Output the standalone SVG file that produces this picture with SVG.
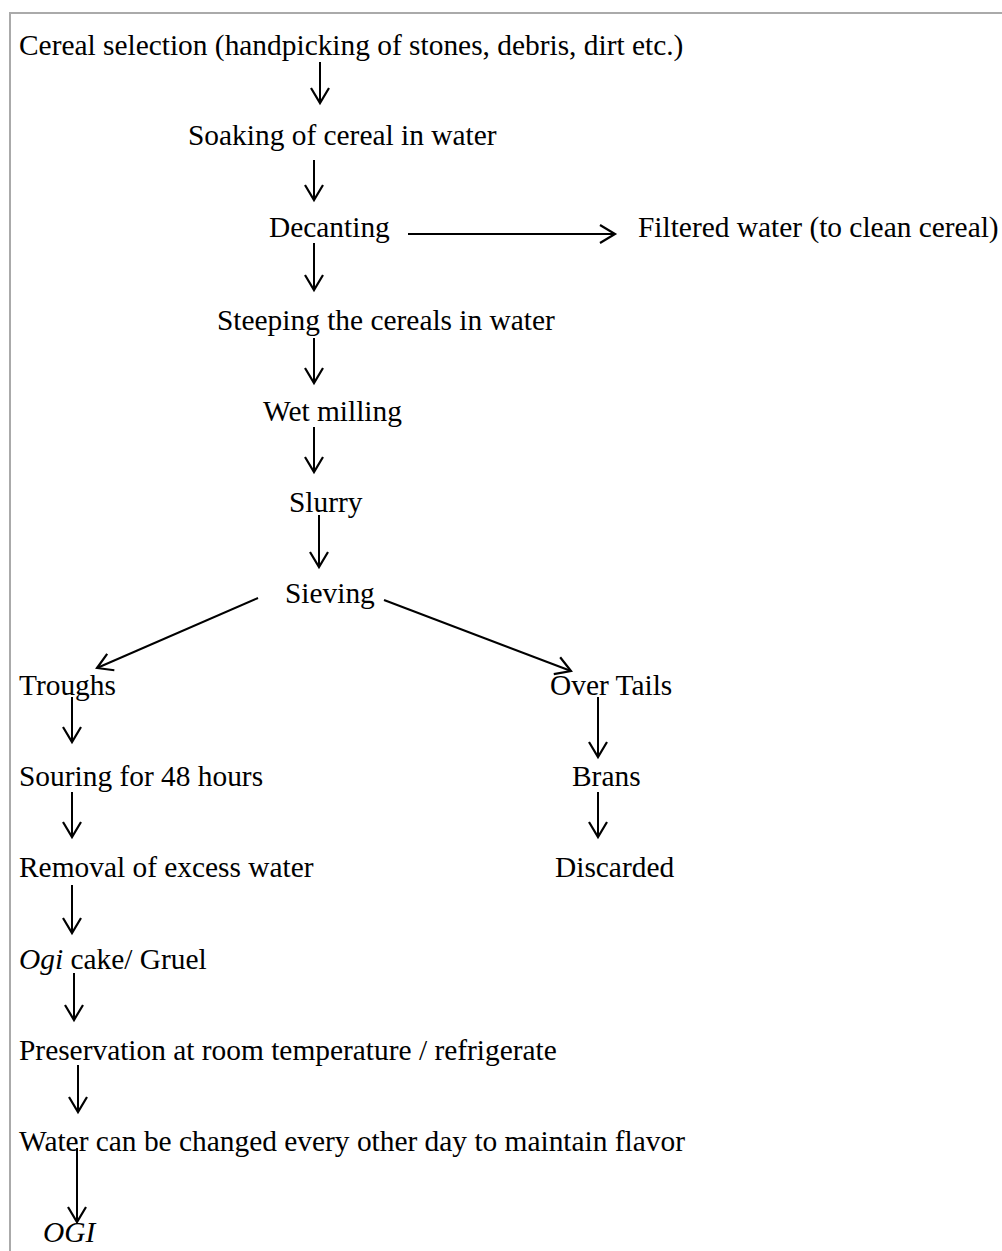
<svg xmlns="http://www.w3.org/2000/svg" width="1002" height="1251" viewBox="0 0 1002 1251">
<style>
text{font-family:"Liberation Serif","Times New Roman",serif;font-size:29.4px;fill:#000}
.it{font-style:italic}
.c line{stroke:#000;stroke-width:2;fill:none;marker-end:url(#ah)}
.frame{stroke:#aaa;stroke-width:2;fill:none}
</style>
<defs>
<marker id="ah" markerUnits="userSpaceOnUse" viewBox="-18 -11 20 22" refX="0" refY="0" markerWidth="20" markerHeight="22" orient="auto" overflow="visible">
<path d="M-15,-9 L0,0 L-15,9" fill="none" stroke="#000" stroke-width="2.2"/>
</marker>
</defs>
<rect width="1002" height="1251" fill="#fff"/>
<path class="frame" d="M10,1251 V13 H1002"/>
<g id="n1"><text x="19" y="55">Cereal selection (handpicking of stones, debris, dirt etc.)</text></g>
<g id="n2"><text x="188" y="145">Soaking of cereal in water</text></g>
<g id="n3"><text x="269" y="237">Decanting</text></g>
<g id="n4"><text x="638" y="237">Filtered water (to clean cereal)</text></g>
<g id="n5"><text x="217" y="330">Steeping the cereals in water</text></g>
<g id="n6"><text x="263" y="421">Wet milling</text></g>
<g id="n7"><text x="289" y="512">Slurry</text></g>
<g id="n8"><text x="285" y="603">Sieving</text></g>
<g id="n9"><text x="19" y="695">Troughs</text></g>
<g id="n10"><text x="550" y="695">Over Tails</text></g>
<g id="n11"><text x="19" y="786">Souring for 48 hours</text></g>
<g id="n12"><text x="572" y="786">Brans</text></g>
<g id="n13"><text x="19" y="877">Removal of excess water</text></g>
<g id="n14"><text x="555" y="877">Discarded</text></g>
<g id="n15"><text x="19" y="969"><tspan class="it">Ogi</tspan> cake/ Gruel</text></g>
<g id="n16"><text x="19" y="1060">Preservation at room temperature / refrigerate</text></g>
<g id="n17"><text x="19" y="1151">Water can be changed every other day to maintain flavor</text></g>
<g id="n18"><text x="43" y="1242" class="it">OGI</text></g>
<g id="connectors" class="c">
<line x1="320" y1="62" x2="320" y2="103"/>
<line x1="314" y1="160" x2="314" y2="200"/>
<line x1="408" y1="234" x2="615" y2="234"/>
<line x1="314" y1="243" x2="314" y2="290"/>
<line x1="314" y1="338" x2="314" y2="383"/>
<line x1="314" y1="427" x2="314" y2="472"/>
<line x1="319" y1="515" x2="319" y2="567"/>
<line x1="258" y1="598" x2="97" y2="668"/>
<line x1="384" y1="600" x2="571" y2="671"/>
<line x1="72" y1="697" x2="72" y2="742"/>
<line x1="598" y1="697" x2="598" y2="757"/>
<line x1="72" y1="792" x2="72" y2="837"/>
<line x1="598" y1="792" x2="598" y2="837"/>
<line x1="72" y1="885" x2="72" y2="933"/>
<line x1="74" y1="973" x2="74" y2="1020"/>
<line x1="78" y1="1065" x2="78" y2="1112"/>
<line x1="77" y1="1148" x2="77" y2="1222"/>
</g>
</svg>
